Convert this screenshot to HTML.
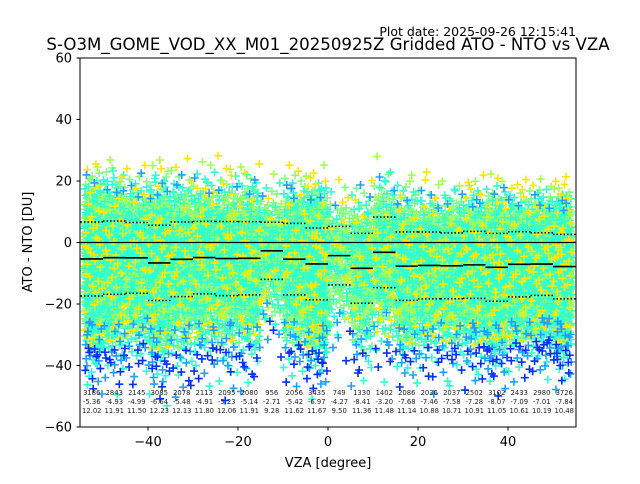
<!DOCTYPE html>
<html><head><meta charset="utf-8"><style>
body{margin:0;background:#fff;font-family:"DejaVu Sans","Liberation Sans",sans-serif}
svg text{font-family:"DejaVu Sans","Liberation Sans",sans-serif}
</style></head><body>
<svg id="chart" width="640" height="480" xmlns="http://www.w3.org/2000/svg">
<rect width="640" height="480" fill="#fff"/>
<text x="576" y="36" font-size="12.5" text-anchor="end">Plot date: 2025-09-26 12:15:41</text>
<text x="328" y="50" font-size="16.6" text-anchor="middle">S-O3M_GOME_VOD_XX_M01_20250925Z Gridded ATO - NTO vs VZA</text>
<g id="plot"></g>
<rect x="80" y="58" width="496" height="369" fill="none" stroke="#000" stroke-width="1"/>
<text x="328" y="467" font-size="13" text-anchor="middle">VZA [degree]</text>
<text transform="translate(32,242) rotate(-90)" font-size="13" text-anchor="middle">ATO - NTO [DU]</text>
</svg>
<script>
const binStarts=[-55,-50,-45,-40,-35,-30,-25,-20,-15,-10,-5,0,5,10,15,20,25,30,35,40,45,50];
const counts=[3186,2843,2145,3085,2078,2113,2095,2080,956,2056,3435,749,1330,1402,2086,2036,2037,2502,3102,2433,2980,3726];
const medians=[-5.36,-4.93,-4.99,-6.64,-5.48,-4.91,-5.23,-5.14,-2.71,-5.42,-6.97,-4.27,-8.41,-3.20,-7.68,-7.46,-7.58,-7.28,-8.07,-7.09,-7.01,-7.84];
const stds=[12.02,11.91,11.50,12.23,12.13,11.80,12.06,11.91,9.28,11.62,11.67,9.50,11.36,11.48,11.14,10.88,10.71,10.91,11.05,10.61,10.19,10.48];
const xTicks=[-40,-20,0,20,40];
const yTicks=[-60,-40,-20,0,20,40,60];
const binWidth=5;
const X=v=>328+v*4.5, Y=v=>242.5-v*3.075;
const NS="http://www.w3.org/2000/svg";
const g=document.getElementById('plot');
function mk(t,a){const e=document.createElementNS(NS,t);for(const k in a)e.setAttribute(k,a[k]);return e;}
function halton(i,b){let f=1,r=0;while(i>0){f/=b;r+=f*(i%b);i=Math.floor(i/b);}return r;}
function invN(p){const a=[-39.6968,220.9461,-275.9285,138.3578,-30.6648,2.5066],b=[-54.4761,161.5858,-155.6990,66.8013,-13.2806],c=[-0.0077846,-0.32240,-2.40076,-2.54973,4.37466,2.93816],d=[0.0077847,0.32247,2.44513,3.75441];
 if(p<0.02425){const q=Math.sqrt(-2*Math.log(p));return(((((c[0]*q+c[1])*q+c[2])*q+c[3])*q+c[4])*q+c[5])/((((d[0]*q+d[1])*q+d[2])*q+d[3])*q+1);}
 if(p>0.97575){const q=Math.sqrt(-2*Math.log(1-p));return-(((((c[0]*q+c[1])*q+c[2])*q+c[3])*q+c[4])*q+c[5])/((((d[0]*q+d[1])*q+d[2])*q+d[3])*q+1);}
 const q=p-0.5,r=q*q;return(((((a[0]*r+a[1])*r+a[2])*r+a[3])*r+a[4])*r+a[5])*q/(((((b[0]*r+b[1])*r+b[2])*r+b[3])*r+b[4])*r+1);}
const cols=['#80ff80','#30ffd0','#a8ff50','#ffe600','#1aa0ff','#0030ff'];
const P=[[],[],[],[],[],[]];
let idx=1;
binStarts.forEach((b,i)=>{
 const n=Math.round(counts[i]/4);
 const lo=Math.max(b,-54.2), hi=Math.min(b+binWidth,54.2);
 for(let k=0;k<n;k++,idx++){
  const p=halton(idx,2)*0.997+0.0015;
  let z=invN(p); z=z<0?z*1.3:z*0.95;
  const xv=lo+0.1+halton(idx,3)*(hi-lo-0.2);
  const yv=Math.max(-59,Math.min(59,medians[i]+stds[i]*z));
  const az=Math.abs(z), h=halton(idx,5);
  let ci;
  if(az>2.4) ci=z>0?(h<0.5?3:2):(h<0.4?5:(h<0.7?4:1));
  else if(az>1.7) ci=h<0.4?1:(h<0.75?0:(h<0.87?3:4));
  else ci=h<0.68?0:(h<0.88?1:(h<0.96?2:3));
  P[ci].push(`M${(X(xv)-4).toFixed(1)} ${Y(yv).toFixed(1)}h8M${X(xv).toFixed(1)} ${(Y(yv)-4).toFixed(1)}v8`);
 }
});
[0,2,1,3,4,5].forEach(ci=>{
 const e=mk('path',{d:P[ci].join(''),stroke:cols[ci],'stroke-width':1.6,fill:'none'});
 
 
 g.appendChild(e);
});
const z0=mk('line',{x1:80,x2:576,y1:Y(0),y2:Y(0),stroke:'#000','stroke-width':1.3});


g.appendChild(z0);
binStarts.forEach((b,i)=>{
 const x1=X(b),x2=X(b+binWidth),cx=(x1+x2)/2;
 const m=mk('line',{x1,x2,y1:Y(medians[i]),y2:Y(medians[i]),stroke:'#000','stroke-width':1.6});
 
 
 g.appendChild(m);
 [1,-1].forEach(s=>{
  const v=medians[i]+s*stds[i];
  const d=mk('line',{x1,x2,y1:Y(v),y2:Y(v),stroke:'#000','stroke-width':1.5,'stroke-dasharray':'1.5,2'});
  
  
  g.appendChild(d);
 });
 [counts[i],medians[i].toFixed(2),stds[i].toFixed(2)].forEach((t,r)=>{
  const e=mk('text',{x:cx,y:395+r*9,'font-size':6.8,'text-anchor':'middle',fill:'#222'});
  e.textContent=t;
  
  
  g.appendChild(e);
 });
});
const svg=document.getElementById('chart');
xTicks.forEach(t=>{
 const l=mk('line',{x1:X(t),x2:X(t),y1:427,y2:430.5,stroke:'#000'});
 
 
 svg.appendChild(l);
 const e=mk('text',{x:X(t),y:446,'font-size':13,'text-anchor':'middle'});
 e.textContent=t<0?'\u2212'+(-t):t;
 
 
 svg.appendChild(e);
});
yTicks.forEach(t=>{
 const l=mk('line',{x1:76.5,x2:80,y1:Y(t),y2:Y(t),stroke:'#000'});
 
 
 svg.appendChild(l);
 const e=mk('text',{x:72,y:Y(t)+4.5,'font-size':13,'text-anchor':'end'});
 e.textContent=t<0?'\u2212'+(-t):t;
 
 
 svg.appendChild(e);
});
</script>
</body></html>
